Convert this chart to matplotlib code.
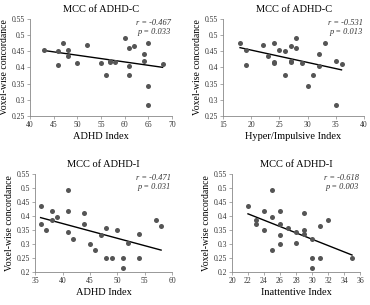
import numpy as np
import matplotlib.pyplot as plt

plt.rcParams['font.family'] = ['Liberation Serif', 'DejaVu Serif']

# ADHD-C vs ADHD Index
c_adhd_x = [43, 46, 46, 47, 48, 48, 50, 52, 55, 56, 57, 57, 58, 60, 61, 61, 61, 62, 64, 64, 65, 65, 65, 68]
c_adhd_y = [0.455, 0.45, 0.408, 0.475, 0.453, 0.436, 0.413, 0.468, 0.414, 0.377, 0.42, 0.417, 0.417,
            0.492, 0.46, 0.405, 0.375, 0.465, 0.44, 0.42, 0.476, 0.343, 0.285, 0.41]

# ADHD-C vs Hyper/Impulsive Index
c_hyp_x = [18, 19, 19, 22, 23, 24, 24, 24, 25, 26, 26, 27, 27, 27, 28, 28, 29, 30, 31, 32, 32, 33, 35, 35, 36]
c_hyp_y = [0.475, 0.455, 0.408, 0.468, 0.436, 0.475, 0.417, 0.413, 0.453, 0.45, 0.377, 0.465, 0.42,
           0.417, 0.492, 0.46, 0.415, 0.343, 0.375, 0.44, 0.405, 0.476, 0.42, 0.285, 0.41]

# ADHD-I vs ADHD Index
i_adhd_x = [36, 36, 37, 38, 38, 39, 41, 41, 41, 42, 44, 44, 45, 46, 47, 48, 48, 49, 50, 51, 51, 52, 54, 54, 57, 58]
i_adhd_y = [0.435, 0.372, 0.352, 0.418, 0.386, 0.396, 0.492, 0.418, 0.343, 0.319, 0.412, 0.373, 0.3,
            0.279, 0.332, 0.358, 0.251, 0.249, 0.35, 0.249, 0.213, 0.304, 0.336, 0.249, 0.387, 0.363]

# ADHD-I vs Inattentive Index
i_ina_x = [22, 23, 23, 24, 24, 25, 25, 25, 26, 26, 26, 26, 27, 28, 28, 29, 29, 29, 30, 30, 30, 31, 31, 32, 35]
i_ina_y = [0.435, 0.385, 0.372, 0.418, 0.352, 0.492, 0.396, 0.279, 0.418, 0.373, 0.332, 0.3, 0.358,
           0.343, 0.304, 0.412, 0.35, 0.336, 0.319, 0.249, 0.213, 0.363, 0.251, 0.387, 0.249]

panels = [
    (c_adhd_x, c_adhd_y, 'MCC of ADHD-C', 'ADHD Index', (40, 70, 5), (0.25, 0.55), 'r = -0.467', 'p = 0.033'),
    (c_hyp_x, c_hyp_y, 'MCC of ADHD-C', 'Hyper/Impulsive Index', (15, 40, 5), (0.25, 0.55), 'r = -0.531', 'p = 0.013'),
    (i_adhd_x, i_adhd_y, 'MCC of ADHD-I', 'ADHD Index', (35, 60, 5), (0.2, 0.55), 'r = -0.471', 'p = 0.031'),
    (i_ina_x, i_ina_y, 'MCC of ADHD-I', 'Inattentive Index', (20, 36, 2), (0.2, 0.55), 'r = -0.618', 'p = 0.003'),
]

rects = [
    [0.081, 0.62, 0.384, 0.318],
    [0.603, 0.62, 0.381, 0.318],
    [0.095, 0.108, 0.370, 0.321],
    [0.627, 0.108, 0.346, 0.321],
]

fig = plt.figure(figsize=(3.7, 3.05), dpi=100)

for (x, y, title, xlabel, xr, yr, rtxt, ptxt), rect in zip(panels, rects):
    ax = fig.add_axes(rect)
    x = np.array(x)
    y = np.array(y)
    ax.scatter(x, y, s=13, color='#555555', zorder=3, linewidths=0)
    k, b = np.polyfit(x, y, 1)
    xx = np.array([x.min(), x.max()])
    ax.plot(xx, k * xx + b, color='black', lw=1.0)
    ax.set_xlim(xr[0], xr[1])
    ax.set_xticks(np.arange(xr[0], xr[1] + 0.1, xr[2]))
    ax.set_ylim(yr)
    yt = np.round(np.arange(yr[0], yr[1] + 0.001, 0.05), 2)
    ax.set_yticks(yt)
    ax.set_yticklabels(['%g' % v for v in yt])
    ax.tick_params(labelsize=5.5, length=2, width=0.5, color='#888888', labelcolor='#333333', pad=1.5)
    for s in ['top', 'right']:
        ax.spines[s].set_visible(False)
    for s in ['left', 'bottom']:
        ax.spines[s].set_color('#888888')
        ax.spines[s].set_linewidth(0.6)
    ax.set_title(title, fontsize=7.5, pad=5)
    ax.set_xlabel(xlabel, fontsize=7.5, labelpad=2)
    ax.set_ylabel('Voxel-wise concordance', fontsize=7, labelpad=2)
    ax.text(0.99, 1.0, rtxt, transform=ax.transAxes, ha='right', va='top', fontsize=6, style='italic',
            color='#333333')
    ax.text(0.99, 0.91, ptxt, transform=ax.transAxes, ha='right', va='top', fontsize=6, style='italic',
            color='#333333')

fig.savefig('out.png', dpi=100)
